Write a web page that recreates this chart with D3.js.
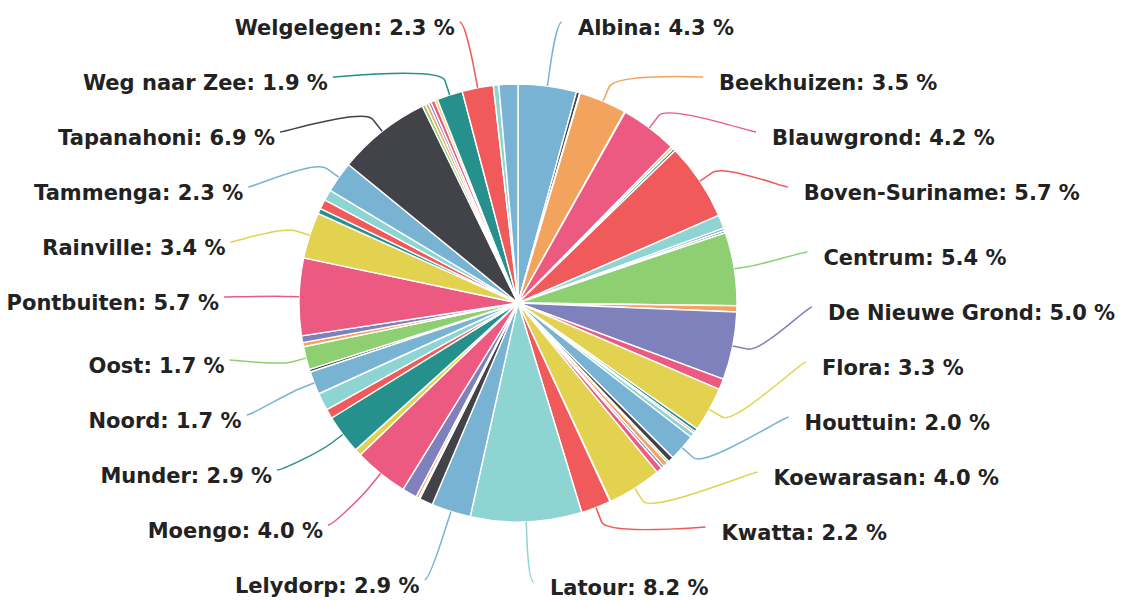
<!DOCTYPE html>
<html>
<head>
<meta charset="utf-8">
<script src="https://cdn.jsdelivr.net/npm/d3@7"></script>
<style>
  body { margin: 0; background: #fff; }
  text { font-family: "DejaVu Sans", sans-serif; font-weight: bold; }
</style>
</head>
<body>
<svg id="mainsvg" width="1121" height="601"></svg>
<script>
// ressorts, clockwise from the top (alphabetical)
var names = [
  "Albina", "Alkmaar", "Bakkie", "Beekhuizen", "Belwaarde", "Blauwgrond",
  "Boven-Coppename", "Boven-Saramacca", "Boven-Suriname", "Brownsweg", "Calcutta", "Carolina",
  "Centrum", "Coeroeni", "De Nieuwe Grond", "Domburg", "Flora", "Galibi",
  "Groningen", "Hamptoncourt", "Houttuin", "Kabalebo", "Kampong Baroe", "Kapoerie",
  "Katwijk", "Kmoe", "Koewarasan", "Kwakoegron", "Kwatta", "Latour",
  "Lelydorp", "Livorno", "Margarethenburg", "Mariënburg", "Meerzorg", "Moengo",
  "Moengotapoe", "Munder", "Nieuw Amsterdam", "Nieuw Nickerie", "Noord", "Oelemari",
  "Oost", "Oostelijke Polders", "Paramaka", "Pontbuiten", "Rainville", "Saramaccapolder",
  "Santigron", "Tamanredjo", "Tammenga", "Tapanahoni", "Tijgerkreek", "Totness",
  "Van Pettenpolder", "Wageningen", "Wanhatti", "Weg naar Zee", "Welgelegen", "Westelijke Polders",
  "Zanderij"
];
var values = [
  4.3, 0.25, 0.05, 3.5, 0.05, 4.2,
  0.2, 0.2, 5.7, 1.0, 0.2, 0.15,
  5.4, 0.45, 5.0, 0.8, 3.3, 0.25,
  0.15, 0.35, 2.0, 0.4, 0.15, 0.35,
  0.2, 0.45, 4.0, 0.05, 2.2, 8.2,
  2.9, 1.0, 0.1, 0.2, 1.1, 4.0,
  0.5, 2.9, 0.7, 1.3, 1.7, 0.2,
  1.7, 0.3, 0.5, 5.7, 3.4, 0.4,
  0.7, 0.8, 2.3, 6.9, 0.25, 0.25,
  0.2, 0.3, 0.2, 1.9, 2.3, 0.4,
  1.4
];
var palette = ["#79b3d4", "#424249", "#8ecf72", "#f2a35d", "#7f81bd",
               "#ec5a82", "#e2d24f", "#25908c", "#f05a5a", "#8dd4d2"];

var cx = 518, cy = 303, r = 219;
var labelR = 289, breakR = r + 15;
var spacing = 55, yMin = 22;

var svg = d3.select("#mainsvg");
var total = d3.sum(values);
var data = names.map(function(n, i){ return {name: n, value: values[i], i: i}; });

var pie = d3.pie().sort(null).value(function(d){ return d.value; });
var arcs = pie(data);
var arc = d3.arc().innerRadius(0).outerRadius(r);
var color = function(i){ return palette[i % palette.length]; };

var g = svg.append("g").attr("transform", "translate(" + cx + "," + cy + ")");
g.selectAll("path.slice")
  .data(arcs)
  .enter().append("path")
  .attr("class", "slice")
  .attr("d", arc)
  .attr("fill", function(d){ return color(d.data.i); })
  .attr("stroke", "#fff")
  .attr("stroke-width", 1.4)
  .attr("stroke-linejoin", "round");

// labels for slices of 1.5 % and more
var fmt = d3.format(".1f");
var labels = arcs.filter(function(d){ return d.data.value / total * 100 >= 1.5; })
  .map(function(d){
    var mid = (d.startAngle + d.endAngle) / 2;
    return {
      d: d, mid: mid,
      left: mid >= Math.PI,
      ny: cy - Math.cos(mid) * labelR
    };
  });

function distribute(list, yMax){
  list.sort(function(a, b){ return a.ny - b.ny; });
  list.forEach(function(l, k){
    l.y = Math.max(l.ny, yMin, k ? list[k-1].y + spacing : yMin);
  });
  for (var k = list.length - 1; k >= 0; k--){
    var lim = k < list.length - 1 ? list[k+1].y - spacing : yMax;
    list[k].y = Math.min(list[k].y, lim, yMax);
  }
  list.forEach(function(l){
    var yy = (l.y === yMin || l.y === yMax) ? l.ny : l.y;
    var dy = Math.max(-labelR, Math.min(labelR, yy - cy));
    var dx = Math.sqrt(labelR * labelR - dy * dy);
    l.x = cx + (l.left ? -dx : dx);
  });
}
distribute(labels.filter(function(l){ return !l.left; }), 582);
distribute(labels.filter(function(l){ return l.left; }), 580);

var lg = svg.append("g");
labels.forEach(function(l){
  var s = Math.sin(l.mid), c = -Math.cos(l.mid);
  var x2 = cx + s * breakR, y2 = cy + c * breakR;
  var x3 = cx + s * r, y3 = cy + c * r;
  var path = "M" + (l.x + (l.left ? -5 : 5)) + "," + l.y +
    "C" + l.x + "," + l.y + " " + (2 * x2 - x3) + "," + (2 * y2 - y3) + " " + x2 + "," + y2 +
    "L" + x3 + "," + y3;
  lg.append("path")
    .attr("d", path)
    .attr("fill", "none")
    .attr("stroke", color(l.d.data.i))
    .attr("stroke-width", 1.5);
  lg.append("text")
    .attr("x", l.left ? l.x - 10 : l.x + 21)
    .attr("y", l.y + 5)
    .attr("dy", "0.36em")
    .attr("text-anchor", l.left ? "end" : "start")
    .attr("font-size", 21)
    .attr("fill", "#222")
    .text(l.d.data.name + ": " + fmt(l.d.data.value / total * 100) + " %");
});
</script>
</body>
</html>
